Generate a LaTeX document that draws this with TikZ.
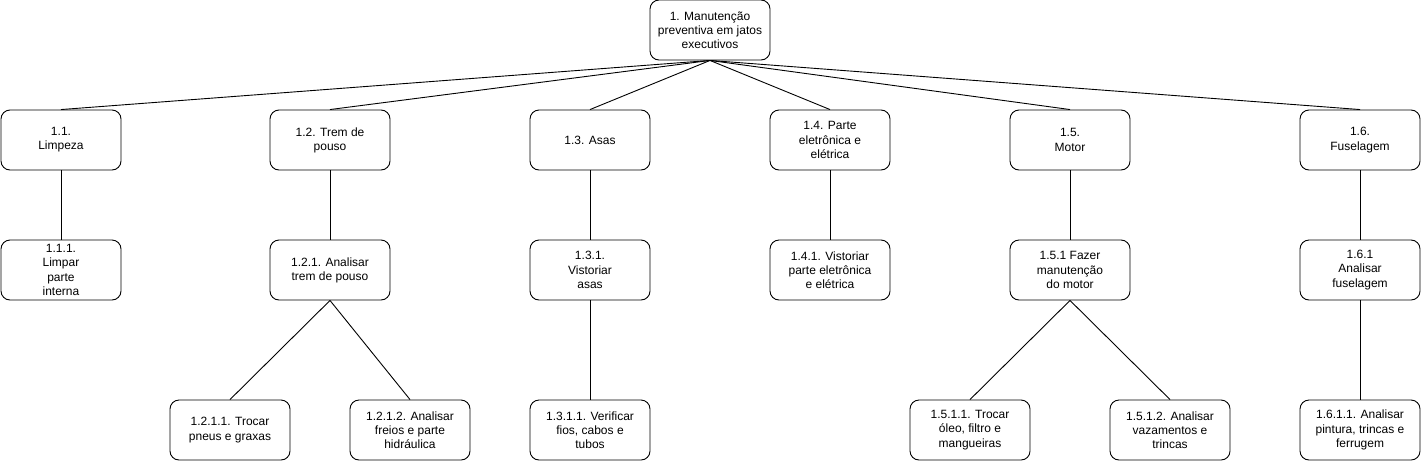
\documentclass[tikz,border=0pt]{standalone}
\usepackage{fontspec}
\setmainfont{Liberation Sans}

\begin{document}
\begin{tikzpicture}[x=1pt, y=-1pt,
  box/.style={draw, line width=0.9pt, rounded corners=9pt, minimum width=120pt,
    minimum height=60pt, align=center, inner sep=1pt,
    font=\fontsize{12}{14.2}\selectfont},
  link/.style={draw, line width=0.9pt}]
\useasboundingbox (0,0) rectangle (1421,461);
% root
\node[box] (root) at (710,30) {1. Manutenção\\preventiva em jatos\\executivos};
% first level
\node[box] (n11) at (61,140) {1.1.\\Limpeza};
\node[box] (n12) at (330,140) {1.2. Trem de\\pouso};
\node[box] (n13) at (590,140) {1.3. Asas};
\node[box] (n14) at (830,140) {1.4. Parte\\eletrônica e\\elétrica};
\node[box] (n15) at (1070,140) {1.5.\\Motor};
\node[box] (n16) at (1360,140) {1.6.\\Fuselagem};
% second level
\node[box] (n111) at (61,270) {1.1.1.\\Limpar\\parte\\interna};
\node[box] (n121) at (330,270) {1.2.1. Analisar\\trem de pouso};
\node[box] (n131) at (590,270) {1.3.1.\\Vistoriar\\asas};
\node[box] (n141) at (830,270) {1.4.1. Vistoriar\\parte eletrônica\\e elétrica};
\node[box] (n151) at (1070,270) {1.5.1 Fazer\\manutenção\\do motor};
\node[box] (n161) at (1360,270) {1.6.1\\Analisar\\fuselagem};
% third level
\node[box] (n1211) at (230,430) {1.2.1.1. Trocar\\pneus e graxas};
\node[box] (n1212) at (410,430) {1.2.1.2. Analisar\\freios e parte\\hidráulica};
\node[box] (n1311) at (590,430) {1.3.1.1. Verificar\\fios, cabos e\\tubos};
\node[box] (n1511) at (970,430) {1.5.1.1. Trocar\\óleo, filtro e\\mangueiras};
\node[box] (n1512) at (1170,430) {1.5.1.2. Analisar\\vazamentos e\\trincas};
\node[box] (n1611) at (1360,430) {1.6.1.1. Analisar\\pintura, trincas e\\ferrugem};
% connectors
\foreach \c in {n11,n12,n13,n14,n15,n16}
  \path[link] (root.south) -- (\c.north);
\foreach \a/\b in {n11/n111,n12/n121,n13/n131,n14/n141,n15/n151,n16/n161,
    n121/n1211,n121/n1212,n131/n1311,n151/n1511,n151/n1512,n161/n1611}
  \path[link] (\a.south) -- (\b.north);
\end{tikzpicture}
\end{document}
